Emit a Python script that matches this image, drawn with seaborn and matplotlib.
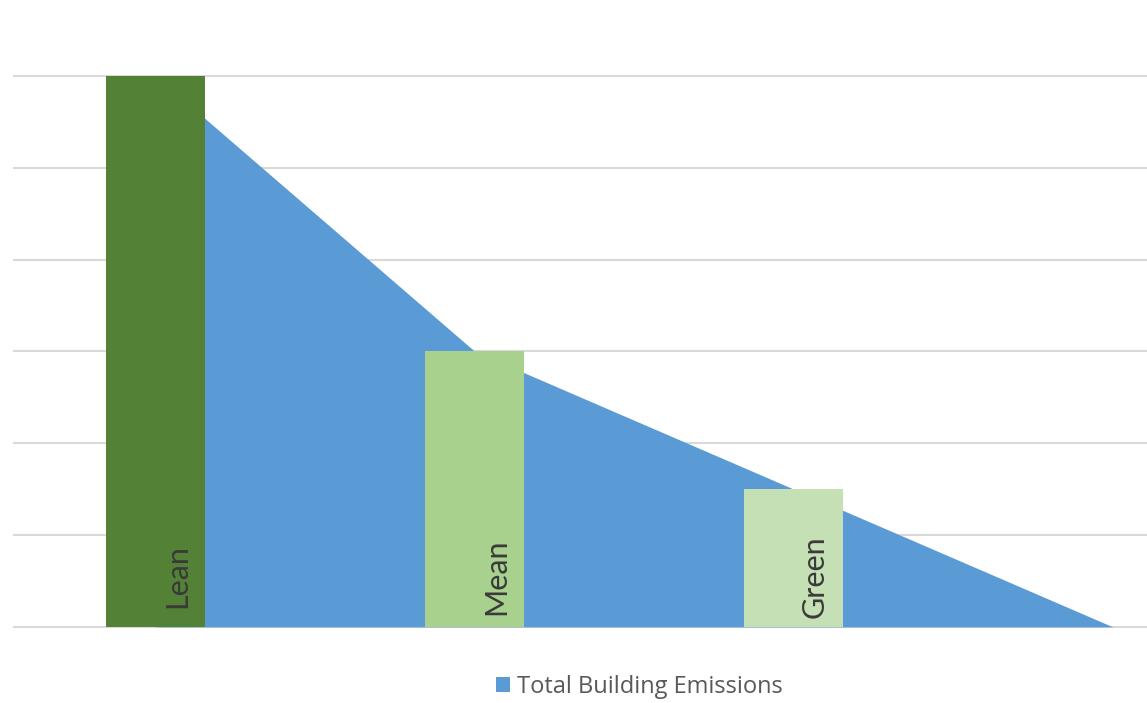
import matplotlib
matplotlib.use("Agg")
import matplotlib.pyplot as plt
import seaborn as sns
import pandas as pd

categories = ["Lean", "Mean", "Green"]
bar_values = [6, 3, 1.5]
area_x = [0, 1, 2, 3]
area_values = [6, 3, 1.5, 0]
series_name = "Total Building Emissions"
bar_colors = ["#538135", "#A9D18E", "#C5E0B4"]
area_color = "#5B9BD5"

sns.set_theme(style="white")
plt.rcParams['font.family'] = ['Open Sans', 'DejaVu Sans']

fig = plt.figure(figsize=(11.47, 7.03), dpi=100)
ax = fig.add_axes([13 / 1147, (703 - 628) / 703, 1 - 13 / 1147, (628 - 75) / 703])

area = ax.fill_between(area_x, area_values, 0, color=area_color, linewidth=0,
                       zorder=2, label=series_name)

df = pd.DataFrame({"cat": categories, "val": bar_values})
sns.barplot(data=df, x="cat", y="val", hue="cat", palette=bar_colors,
            order=categories, width=0.31, ax=ax, legend=False, zorder=3,
            saturation=1, linewidth=0)

for i, name in enumerate(categories):
    ax.text(i + 0.066, 0.55, name, rotation=90, ha="center", va="center",
            color="#3a3a3a", fontsize=22, family=["Lato", "DejaVu Sans"],
            fontweight="normal", zorder=4)

ax.set_xlim(-0.448, 3.107)
ax.set_ylim(-0.012, 6.012)
ax.set_yticks([0, 1, 2, 3, 4, 5, 6])
ax.yaxis.grid(True, color="#D9D9D9", linewidth=1.5, zorder=0)
ax.xaxis.grid(False)
ax.set_axisbelow(True)
ax.set_xticks([])
ax.tick_params(left=False, bottom=False, labelleft=False, labelbottom=False)
ax.set_xlabel("")
ax.set_ylabel("")
for s in ax.spines.values():
    s.set_visible(False)

fig.legend(handles=[area], labels=[series_name], loc="center",
           bbox_to_anchor=(639 / 1147, 1 - 687 / 703), frameon=False,
           fontsize=17, labelcolor="#595959", handlelength=0.6,
           handleheight=0.6, handletextpad=0.3)

fig.savefig("out.png", dpi=100)
